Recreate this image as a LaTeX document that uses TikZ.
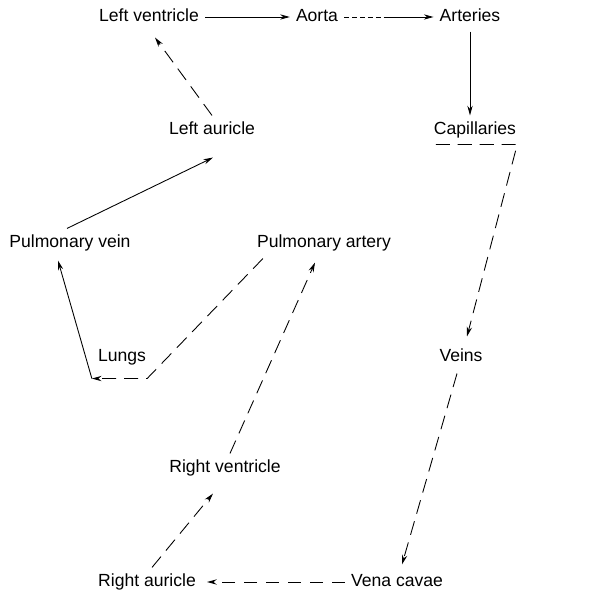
\documentclass[tikz,border=0pt]{standalone}
\usepackage{fontspec}
\setmainfont{Liberation Sans}
\usetikzlibrary{arrows.meta,calc}

\begin{document}
\begin{tikzpicture}[
  organ/.style={text height=7.5pt,text depth=2pt,inner sep=3.33pt},
  flow/.style={-{Stealth[length=5.5pt,width=3pt]},line width=0.5pt},
  dashflow/.style={flow,dash pattern=on 8pt off 4.5pt},
  font=\fontsize{10pt}{12pt}\selectfont]
  \useasboundingbox (0,0) rectangle (12.32,11.86);

  \node[organ] (lvent) at (2.98,11.52) {Left ventricle};
  \node[organ] (aorta) at (6.34,11.52) {Aorta};
  \node[organ] (arter) at (9.40,11.52) {Arteries};
  \node[organ] (laur)  at (4.24,9.26) {Left auricle};
  \node[organ] (capil) at (9.50,9.26) {Capillaries};
  \node[organ] (pvein) at (1.40,7.00) {Pulmonary vein};
  \node[organ] (part)  at (6.48,7.00) {Pulmonary artery};
  \node[organ] (lungs) at (2.44,4.72) {Lungs};
  \node[organ] (veins) at (9.22,4.72) {Veins};
  \node[organ] (rvent) at (4.50,2.50) {Right ventricle};
  \node[organ] (raur)  at (2.94,0.22) {Right auricle};
  \node[organ] (vcav)  at (7.94,0.22) {Vena cavae};

  \coordinate (aomid) at ($(aorta.east)!0.5!(arter.west)$);
  \coordinate (lungr) at ([shift={(-0.1,-0.14)}]lungs.south east);
  \coordinate (lungl) at ([yshift=-0.14cm]lungs.south west);

  % systemic side
  \draw[flow] (lvent) -- (aorta);
  \draw[line width=0.5pt,dash pattern=on 3pt off 1.5pt] (aorta.east) -- (aomid);
  \draw[flow] (aomid) -- (arter.west);
  \draw[flow] (arter.south) -- (arter.south |- capil.north);
  \draw[dashflow] ([xshift=0.16cm]capil.south west) -- ([xshift=-0.1cm]capil.south east) -- ([shift={(0.12,0.12)}]veins.north);
  \draw[dashflow] ([shift={(-0.08,-0.04)}]veins.south) -- ([shift={(0.1,0.06)}]vcav.north);
  \draw[dashflow,dash pattern=on 7.5pt off 5pt] (vcav.west) -- ([xshift=0.1cm]raur.east);

  % pulmonary side
  \draw[dashflow] ([xshift=0.1cm]raur.north) -- ([shift={(-0.24,-0.22)}]rvent.south);
  \draw[dashflow] ([xshift=0.1cm]rvent.north) -- ([shift={(-0.18,-0.1)}]part.south);
  \draw[dashflow] ([shift={(0.24,-0.02)}]part.south west) -- (lungr) -- (lungl);
  \draw[flow] (lungl) -- ([shift={(-0.24,-0.06)}]pvein.south);
  \draw[flow] ([xshift=-0.06cm]pvein.north) -- ([shift={(0.02,-0.26)}]laur.south);
  \draw[dashflow] (laur.north) -- ([shift={(0.12,-0.12)}]lvent.south);
\end{tikzpicture}
\end{document}
